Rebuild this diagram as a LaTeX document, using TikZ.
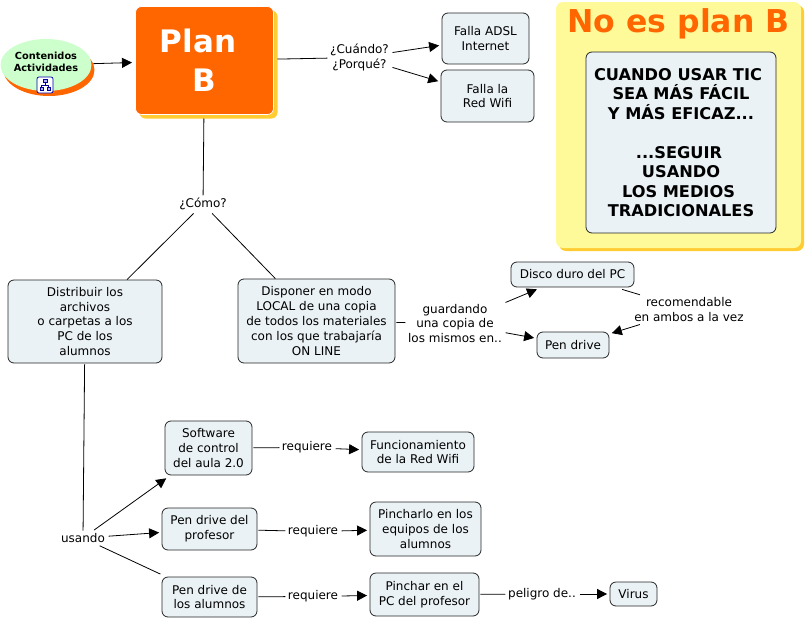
\documentclass[tikz,border=0pt]{standalone}
\usepackage{fontspec}
\setmainfont{DejaVu Sans}
\usetikzlibrary{arrows.meta,shadows,shapes.geometric}
\definecolor{planorange}{HTML}{FF6600}
\definecolor{planyellow}{HTML}{FFCC33}
\definecolor{notefill}{HTML}{FFFA99}
\definecolor{boxfill}{HTML}{EAF2F5}
\definecolor{bubblefill}{HTML}{CCFFCC}
\tikzset{
	concept/.style={draw=black!85,line width=0.8pt,fill=boxfill,rounded corners=6pt,align=center,inner sep=0pt,font=\fontsize{12}{14.8}\selectfont},
	linklabel/.style={align=center,inner sep=2.5pt,font=\fontsize{12}{14.8}\selectfont},
	link/.style={line width=0.8pt,black,shorten <=1pt},
	arrowlink/.style={link,->,shorten >=2.5pt},
}
\begin{document}
\begin{tikzpicture}[x=1pt,y=-1pt,>={Triangle[length=10pt,width=10pt]}]
	\useasboundingbox (0,0) rectangle (807,619);
	\node[ellipse,fill=bubblefill,minimum width=88pt,minimum height=52pt,inner sep=0pt,align=center,outer sep=1pt,text depth=6.5pt,
		drop shadow={shadow xshift=3pt,shadow yshift=-5pt,opacity=1,fill=planorange},
		font=\bfseries\fontsize{9.8}{12.5}\selectfont] (contenidos) at (46,65) {Contenidos\\Actividades};
	\node[rounded corners=2pt,draw=blue!70!black,line width=0.7pt,fill=white,minimum size=16pt,inner sep=0pt] (icon) at (45,85) {};
	\draw[blue!60!black,line width=0.6pt,fill=blue!30] (43,79) rectangle (47,82) (40,87) rectangle (43,90) (47,87) rectangle (50,90);
	\draw[blue!60!black,line width=0.6pt] (45,82)--(45,85) (41.5,87)--(41.5,85)--(48.5,85)--(48.5,87);
	\node[rounded corners=6pt,fill=planorange,draw=white,line width=0.7pt,minimum width=138pt,minimum height=108pt,inner sep=0pt,outer sep=3pt,align=center,text=white,
		drop shadow={shadow xshift=4pt,shadow yshift=-4pt,opacity=1,fill=planyellow},
		font=\bfseries\fontsize{31}{39}\selectfont] (planB) at (204.5,60.5) {\mbox{Plan\hspace{13pt}}\\B};
	\node[concept,minimum width=87pt,minimum height=51pt] (adsl) at (485.5,38.5) {Falla ADSL\\Internet};
	\node[concept,minimum width=93pt,minimum height=52pt] (wifi) at (487.5,96) {Falla la\\Red Wifi};
	\node[rounded corners=7pt,fill=notefill,minimum width=245pt,minimum height=246pt,inner sep=0pt,
		drop shadow={shadow xshift=3pt,shadow yshift=-3pt,opacity=1,fill=planyellow}] (noplan) at (678.5,125) {};
	\node[text=planorange,inner sep=0pt,font=\bfseries\fontsize{31.5}{37}\selectfont] (noplantitle) at (678.5,24) {No es plan B};
	\node[concept,minimum width=190pt,minimum height=181pt,font=\bfseries\fontsize{16.2}{19.5}\selectfont] (tradicional) at (681,142.5) {\mbox{CUANDO USAR TIC\hspace{6pt}}\\SEA MÁS FÁCIL\\Y MÁS EFICAZ...\\[19.5pt]\mbox{...SEGUIR\hspace{4pt}}\\USANDO\\\mbox{LOS MEDIOS\hspace{5pt}}\\TRADICIONALES};
	\node[concept,minimum width=154pt,minimum height=83pt] (distribuir) at (85,321.5) {Distribuir los\\archivos\\o carpetas a los\\PC de los\\alumnos};
	\node[concept,minimum width=157pt,minimum height=84pt] (disponer) at (316.5,321) {Disponer en modo\\LOCAL de una copia\\de todos los materiales\\con los que trabajaría\\ON LINE};
	\node[concept,minimum width=123pt,minimum height=25pt] (disco) at (572.5,274.5) {Disco duro del PC};
	\node[concept,minimum width=72pt,minimum height=26pt] (pen) at (573,345) {Pen drive};
	\node[concept,minimum width=87pt,minimum height=54pt] (software) at (208.5,448) {Software\\de control\\del aula 2.0};
	\node[concept,minimum width=112pt,minimum height=40pt] (funcionamiento) at (418,452) {Funcionamiento\\de la Red Wifi};
	\node[concept,minimum width=95pt,minimum height=42pt] (penprofesor) at (209.5,529) {Pen drive del\\profesor};
	\node[concept,minimum width=111pt,minimum height=54pt] (pincharlo) at (425.5,529) {Pincharlo en los\\equipos de los\\alumnos};
	\node[concept,minimum width=95pt,minimum height=40pt] (penalumnos) at (209.5,597) {Pen drive de\\los alumnos};
	\node[concept,minimum width=109pt,minimum height=43pt] (pinchar) at (424.5,594.5) {Pinchar en el\\PC del profesor};
	\node[concept,minimum width=47pt,minimum height=24pt] (virus) at (633.5,594) {Virus};
	\node[linklabel] (cuando) at (359.5,57.5) {¿Cuándo?\\¿Porqué?};
	\node[linklabel] (como) at (203,204) {¿Cómo?};
	\node[linklabel] (guardando) at (455,323.5) {guardando\\una copia de\\los mismos en..};
	\node[linklabel] (recomendable) at (689,309.5) {recomendable\\en ambos a la vez};
	\node[linklabel] (usando) at (83,538) {usando};
	\node[linklabel] (requiereA) at (307,447.5) {requiere};
	\node[linklabel] (requiereB) at (313,531.5) {requiere};
	\node[linklabel] (requiereC) at (313,596.5) {requiere};
	\node[linklabel] (peligro) at (542,594) {peligro de..};
	\draw[arrowlink,shorten >=0.5pt] (contenidos)--(planB);
	\draw[link] (planB)--(cuando);
	\draw[arrowlink] (cuando)--(adsl);
	\draw[arrowlink] (cuando)--(wifi);
	\draw[link] (planB)--(como);
	\draw[link] (como)--(distribuir);
	\draw[link] (como)--(disponer);
	\draw[link] (disponer)--(guardando);
	\draw[arrowlink,shorten >=5pt] (guardando)--(disco);
	\draw[arrowlink] (guardando)--(pen);
	\draw[link,shorten <=7pt] (disco)--(recomendable);
	\draw[arrowlink] (recomendable)--(pen);
	\draw[link] (distribuir)--(usando);
	\draw[arrowlink,shorten >=5pt] (usando)--(software);
	\draw[arrowlink] (usando)--(penprofesor);
	\draw[link,shorten >=6pt] (usando)--(penalumnos);
	\draw[link] (software)--(requiereA);
	\draw[arrowlink] (requiereA)--(funcionamiento);
	\draw[link] (penprofesor)--(requiereB);
	\draw[arrowlink] (requiereB)--(pincharlo);
	\draw[link] (penalumnos)--(requiereC);
	\draw[arrowlink] (requiereC)--(pinchar);
	\draw[link] (pinchar)--(peligro);
	\draw[arrowlink] (peligro)--(virus);
\end{tikzpicture}
\end{document}
